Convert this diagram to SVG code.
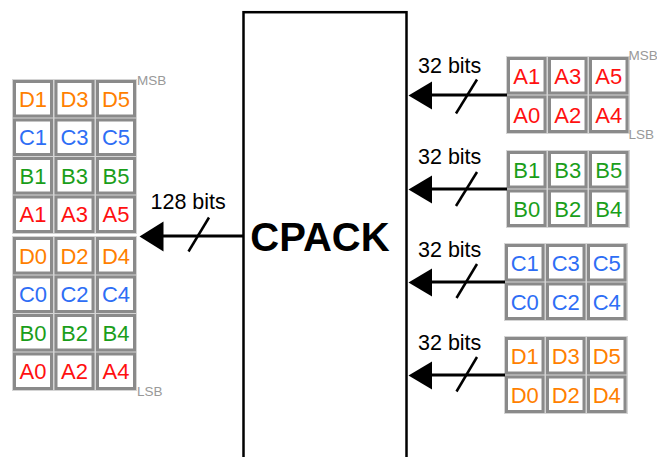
<svg xmlns="http://www.w3.org/2000/svg" width="657" height="457" viewBox="0 0 657 457">
<style>
  .bg{fill:#d4d4d4}
  .c{fill:#fff;stroke:#8a8a8a;stroke-width:3}
  text{font-family:"Liberation Sans",Arial,sans-serif}
  .t{font-size:22px;text-anchor:middle}
  .A{fill:#ff1010}.B{fill:#1a9e1a}.C{fill:#2e6ef5}.D{fill:#ff7f00}
  .lbl{font-size:21.5px;fill:#000}
  .sb{font-size:13.5px;fill:#999}
  .ln{stroke:#000;stroke-width:3;fill:none}
  .sl{stroke:#000;stroke-width:2.5;fill:none}
  .ah{fill:#000}
</style>
<defs>
  <rect id="cl" class="c" x="1.5" y="1.5" width="37" height="34.5"/>
  <rect id="cr" class="c" x="1.5" y="1.5" width="36.5" height="34.5"/>
</defs>

<g id="cpack">
  <rect x="243.5" y="12.2" width="163" height="460" fill="#fff" stroke="#000" stroke-width="2.5"/>
  <text x="320" y="251" font-size="40" font-weight="bold" text-anchor="middle" fill="#000">CPACK</text>
</g>

<g id="out-block">
  <rect class="bg" x="12" y="79" width="125" height="155"/>
  <rect class="bg" x="12" y="236" width="125" height="155"/>
  <g transform="translate(13,80)"><use href="#cl"/><text class="t D" x="20" y="26.8">D1</text></g>
  <g transform="translate(54.5,80)"><use href="#cl"/><text class="t D" x="20" y="26.8">D3</text></g>
  <g transform="translate(96,80)"><use href="#cl"/><text class="t D" x="20" y="26.8">D5</text></g>
  <g transform="translate(13,118.5)"><use href="#cl"/><text class="t C" x="20" y="26.8">C1</text></g>
  <g transform="translate(54.5,118.5)"><use href="#cl"/><text class="t C" x="20" y="26.8">C3</text></g>
  <g transform="translate(96,118.5)"><use href="#cl"/><text class="t C" x="20" y="26.8">C5</text></g>
  <g transform="translate(13,157)"><use href="#cl"/><text class="t B" x="20" y="26.8">B1</text></g>
  <g transform="translate(54.5,157)"><use href="#cl"/><text class="t B" x="20" y="26.8">B3</text></g>
  <g transform="translate(96,157)"><use href="#cl"/><text class="t B" x="20" y="26.8">B5</text></g>
  <g transform="translate(13,195.5)"><use href="#cl"/><text class="t A" x="20" y="26.8">A1</text></g>
  <g transform="translate(54.5,195.5)"><use href="#cl"/><text class="t A" x="20" y="26.8">A3</text></g>
  <g transform="translate(96,195.5)"><use href="#cl"/><text class="t A" x="20" y="26.8">A5</text></g>
  <g transform="translate(13,237)"><use href="#cl"/><text class="t D" x="20" y="26.8">D0</text></g>
  <g transform="translate(54.5,237)"><use href="#cl"/><text class="t D" x="20" y="26.8">D2</text></g>
  <g transform="translate(96,237)"><use href="#cl"/><text class="t D" x="20" y="26.8">D4</text></g>
  <g transform="translate(13,275.5)"><use href="#cl"/><text class="t C" x="20" y="26.8">C0</text></g>
  <g transform="translate(54.5,275.5)"><use href="#cl"/><text class="t C" x="20" y="26.8">C2</text></g>
  <g transform="translate(96,275.5)"><use href="#cl"/><text class="t C" x="20" y="26.8">C4</text></g>
  <g transform="translate(13,314)"><use href="#cl"/><text class="t B" x="20" y="26.8">B0</text></g>
  <g transform="translate(54.5,314)"><use href="#cl"/><text class="t B" x="20" y="26.8">B2</text></g>
  <g transform="translate(96,314)"><use href="#cl"/><text class="t B" x="20" y="26.8">B4</text></g>
  <g transform="translate(13,352.5)"><use href="#cl"/><text class="t A" x="20" y="26.8">A0</text></g>
  <g transform="translate(54.5,352.5)"><use href="#cl"/><text class="t A" x="20" y="26.8">A2</text></g>
  <g transform="translate(96,352.5)"><use href="#cl"/><text class="t A" x="20" y="26.8">A4</text></g>
  <text class="sb" x="137" y="84.5">MSB</text>
  <text class="sb" x="137" y="395.5">LSB</text>
</g>

<g id="in-a">
  <rect class="bg" x="506" y="56" width="124" height="78"/>
  <g transform="translate(507,57)"><use href="#cr"/><text class="t A" x="19.75" y="27">A1</text></g>
  <g transform="translate(548,57)"><use href="#cr"/><text class="t A" x="19.75" y="27">A3</text></g>
  <g transform="translate(589,57)"><use href="#cr"/><text class="t A" x="19.75" y="27">A5</text></g>
  <g transform="translate(507,95.5)"><use href="#cr"/><text class="t A" x="19.75" y="27">A0</text></g>
  <g transform="translate(548,95.5)"><use href="#cr"/><text class="t A" x="19.75" y="27">A2</text></g>
  <g transform="translate(589,95.5)"><use href="#cr"/><text class="t A" x="19.75" y="27">A4</text></g>
  <text class="sb" x="628.5" y="60">MSB</text>
  <text class="sb" x="628.5" y="139">LSB</text>
</g>

<g id="in-b">
  <rect class="bg" x="506" y="150" width="124" height="78"/>
  <g transform="translate(507,151)"><use href="#cr"/><text class="t B" x="19.75" y="27">B1</text></g>
  <g transform="translate(548,151)"><use href="#cr"/><text class="t B" x="19.75" y="27">B3</text></g>
  <g transform="translate(589,151)"><use href="#cr"/><text class="t B" x="19.75" y="27">B5</text></g>
  <g transform="translate(507,189.5)"><use href="#cr"/><text class="t B" x="19.75" y="27">B0</text></g>
  <g transform="translate(548,189.5)"><use href="#cr"/><text class="t B" x="19.75" y="27">B2</text></g>
  <g transform="translate(589,189.5)"><use href="#cr"/><text class="t B" x="19.75" y="27">B4</text></g>
</g>

<g id="in-c">
  <rect class="bg" x="504" y="243" width="124" height="78"/>
  <g transform="translate(505,244)"><use href="#cr"/><text class="t C" x="19.75" y="27">C1</text></g>
  <g transform="translate(546,244)"><use href="#cr"/><text class="t C" x="19.75" y="27">C3</text></g>
  <g transform="translate(587,244)"><use href="#cr"/><text class="t C" x="19.75" y="27">C5</text></g>
  <g transform="translate(505,282.5)"><use href="#cr"/><text class="t C" x="19.75" y="27">C0</text></g>
  <g transform="translate(546,282.5)"><use href="#cr"/><text class="t C" x="19.75" y="27">C2</text></g>
  <g transform="translate(587,282.5)"><use href="#cr"/><text class="t C" x="19.75" y="27">C4</text></g>
</g>

<g id="in-d">
  <rect class="bg" x="504" y="336" width="124" height="78"/>
  <g transform="translate(505,337)"><use href="#cr"/><text class="t D" x="19.75" y="27">D1</text></g>
  <g transform="translate(546,337)"><use href="#cr"/><text class="t D" x="19.75" y="27">D3</text></g>
  <g transform="translate(587,337)"><use href="#cr"/><text class="t D" x="19.75" y="27">D5</text></g>
  <g transform="translate(505,375.5)"><use href="#cr"/><text class="t D" x="19.75" y="27">D0</text></g>
  <g transform="translate(546,375.5)"><use href="#cr"/><text class="t D" x="19.75" y="27">D2</text></g>
  <g transform="translate(587,375.5)"><use href="#cr"/><text class="t D" x="19.75" y="27">D4</text></g>
</g>

<g id="connectors">
  <line class="ln" x1="160" y1="236" x2="243" y2="236"/>
  <polygon class="ah" points="139.5,236.5 163.5,221.5 163.5,251.5"/>
  <line class="sl" x1="209" y1="217.5" x2="188.5" y2="251.5"/>
  <text class="lbl" x="150.5" y="209">128 bits</text>

  <line class="ln" x1="428" y1="95" x2="507" y2="95"/>
  <polygon class="ah" points="408.5,95.5 432,81.5 432,109.5"/>
  <line class="sl" x1="477" y1="79.5" x2="456" y2="113.5"/>
  <text class="lbl" x="418" y="72.5">32 bits</text>

  <line class="ln" x1="428" y1="189" x2="507" y2="189"/>
  <polygon class="ah" points="408.5,189.5 432,175.5 432,203.5"/>
  <line class="sl" x1="477" y1="172" x2="456" y2="206"/>
  <text class="lbl" x="418" y="164">32 bits</text>

  <line class="ln" x1="428" y1="282" x2="505" y2="282"/>
  <polygon class="ah" points="408.5,282.5 432,268.5 432,296.5"/>
  <line class="sl" x1="477" y1="264" x2="456.5" y2="298"/>
  <text class="lbl" x="418" y="257">32 bits</text>

  <line class="ln" x1="428" y1="375" x2="505" y2="375"/>
  <polygon class="ah" points="408.5,375.5 432,361.5 432,389.5"/>
  <line class="sl" x1="477" y1="357" x2="456.5" y2="391.5"/>
  <text class="lbl" x="418" y="350">32 bits</text>
</g>
</svg>
